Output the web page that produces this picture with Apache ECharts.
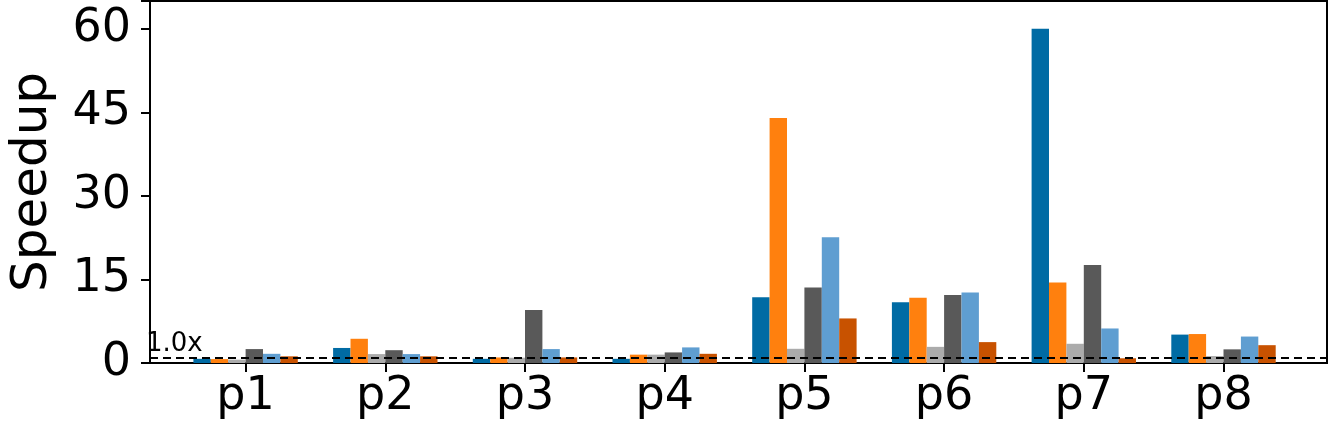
<!DOCTYPE html>
<html>
<head>
<meta charset="utf-8">
<script src="https://cdn.jsdelivr.net/npm/echarts@6/dist/echarts.min.js"></script>
<style>
  html, body { margin: 0; padding: 0; background: #fff; }
  #chart { width: 1329px; height: 430px; }
</style>
</head>
<body>
<div id="chart"></div>
<script>
// categories and series values
var categories = ['p1', 'p2', 'p3', 'p4', 'p5', 'p6', 'p7', 'p8'];
var s1 = [0.75, 2.7, 0.75, 0.75, 11.8, 10.9, 60.0, 5.1];
var s2 = [0.7, 4.35, 1.0, 1.5, 44.0, 11.7, 14.45, 5.2];
var s3 = [0.6, 1.6, 0.95, 1.5, 2.55, 2.9, 3.45, 1.25];
var s4 = [2.5, 2.3, 9.5, 1.9, 13.55, 12.2, 17.6, 2.45];
var s5 = [1.65, 1.6, 2.5, 2.8, 22.6, 12.65, 6.2, 4.75];
var s6 = [1.2, 1.2, 1.0, 1.65, 8.0, 3.75, 0.85, 3.2];
var baseline = 1.0;
var yTicks = [0, 15, 30, 45, 60];

var colors = ['#006BA4', '#FF800E', '#ABABAB', '#595959', '#5F9ED1', '#C85200'];
var seriesData = [s1, s2, s3, s4, s5, s6];
var font = 'DejaVu Sans';

var myChart = echarts.init(document.getElementById('chart'));

var barSeries = seriesData.map(function (d, i) {
    return {
        name: 's' + (i + 1),
        type: 'bar',
        xAxisIndex: 1,
        yAxisIndex: 1,
        barWidth: 17.4,
        barGap: '0%',
        itemStyle: { color: colors[i] },
        data: d
    };
});

var option = {
    backgroundColor: '#fff',
    animation: false,
    grid: [
        // frame
        { left: 139, right: 2, top: 1, bottom: 67, show: true, borderColor: '#000', borderWidth: 2, backgroundColor: 'transparent' },
        // bars
        { left: 175.75, right: 35.65, top: 1, bottom: 67 }
    ],
    xAxis: [
        { gridIndex: 0, type: 'value', min: 0, max: 1, show: false },
        {
            gridIndex: 1,
            type: 'category',
            data: categories,
            axisLine: { show: true, lineStyle: { color: '#000', width: 2 } },
            axisTick: { show: true, alignWithLabel: true, length: 9, lineStyle: { color: '#000', width: 2 } },
            axisLabel: { fontFamily: font, fontSize: 46, color: '#000', margin: 11 }
        }
    ],
    yAxis: [
        {
            gridIndex: 0,
            type: 'value',
            min: 0,
            max: 65,
            interval: 15,
            name: 'Speedup',
            nameLocation: 'middle',
            nameGap: 92,
            nameTextStyle: { fontFamily: font, fontSize: 50, color: '#000' },
            axisLine: { show: true, lineStyle: { color: '#000', width: 2 } },
            axisTick: { show: true, length: 9, lineStyle: { color: '#000', width: 2 } },
            axisLabel: {
                fontFamily: font, fontSize: 46, color: '#000', margin: 19,
                formatter: function (v) { return yTicks.indexOf(v) >= 0 ? String(v) : ''; }
            },
            splitLine: { show: false }
        },
        { gridIndex: 1, type: 'value', min: 0, max: 65, show: false }
    ],
    series: barSeries.concat([{
        type: 'line',
        xAxisIndex: 0,
        yAxisIndex: 0,
        data: [],
        z: 10,
        markLine: {
            silent: true,
            symbol: 'none',
            lineStyle: { color: '#000', type: [8, 5], width: 2 },
            label: {
                show: true,
                position: 'insideStartTop',
                formatter: baseline.toFixed(1) + 'x',
                fontFamily: font,
                fontSize: 26,
                color: '#000',
                distance: [-4, 0]
            },
            data: [{ yAxis: baseline }]
        }
    }])
};

myChart.setOption(option);
</script>
</body>
</html>
